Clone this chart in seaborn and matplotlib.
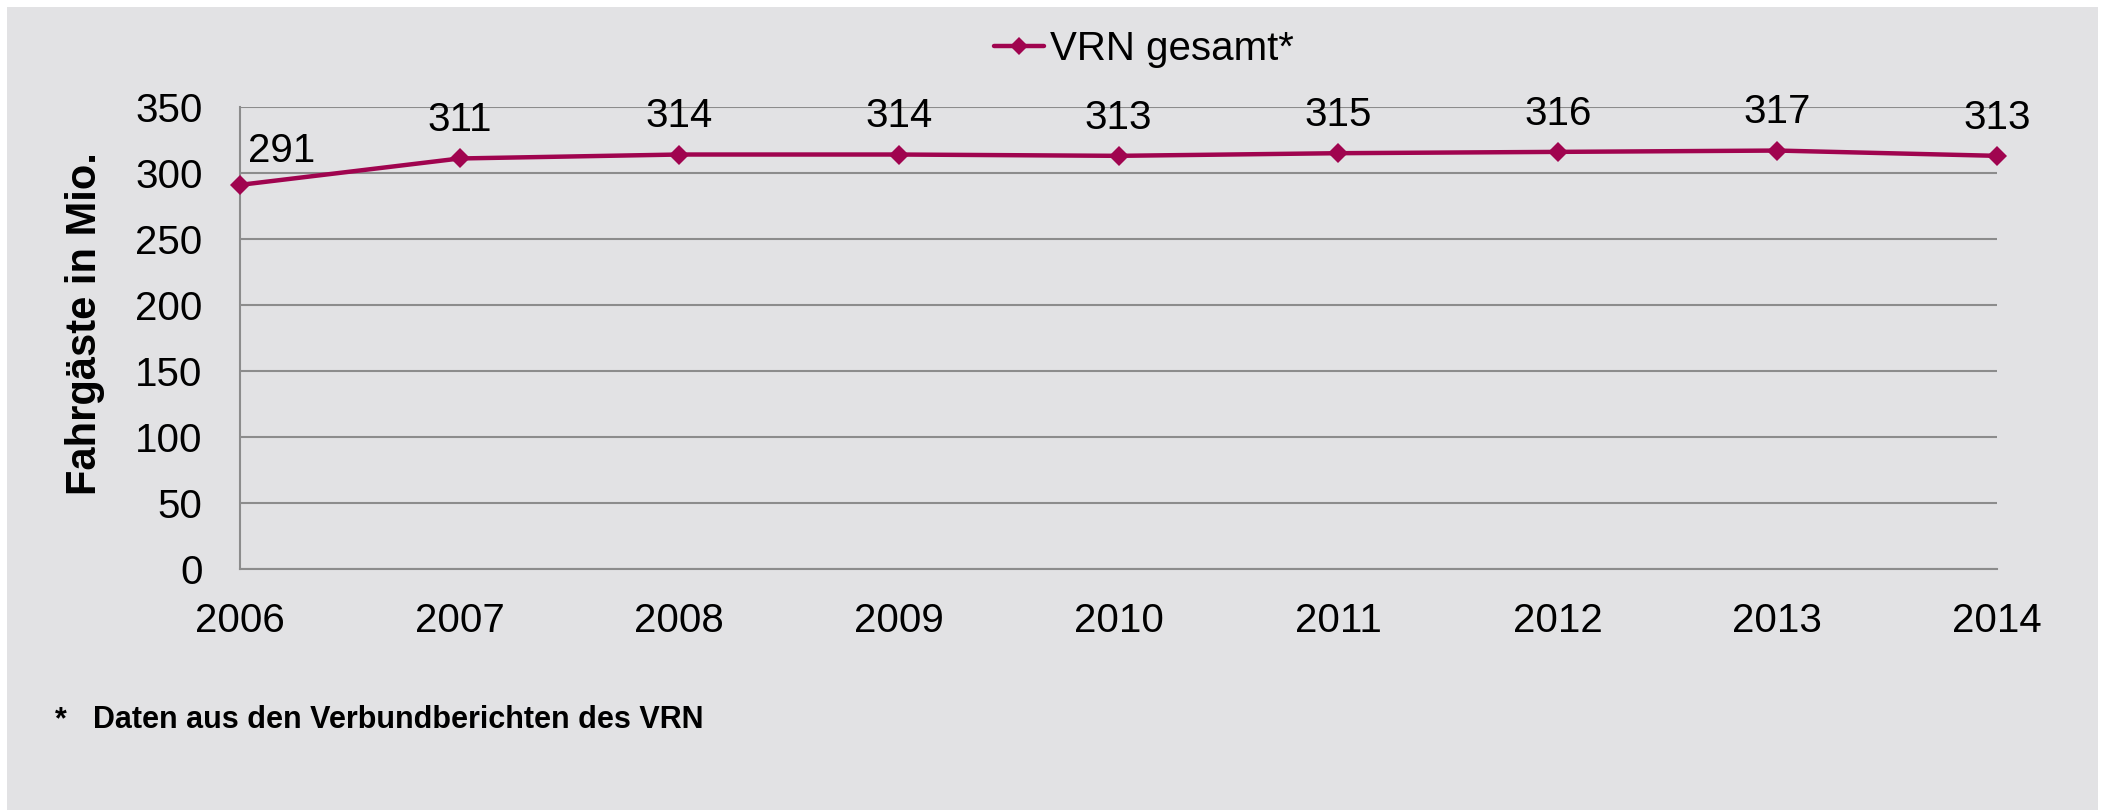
import matplotlib
matplotlib.use("Agg")
import matplotlib.pyplot as plt
import matplotlib.patches as mpatches
import seaborn as sns
import pandas as pd

years = [2006, 2007, 2008, 2009, 2010, 2011, 2012, 2013, 2014]
passengers = [291, 311, 314, 314, 313, 315, 316, 317, 313]
series_name = "VRN gesamt*"
y_ticks = [0, 50, 100, 150, 200, 250, 300, 350]
y_label = "Fahrgäste in Mio."
footnote_star = "*"
footnote_text = "Daten aus den Verbundberichten des VRN"

W, H = 2105, 810
BG = "#e2e2e4"
LINE = "#a0044f"
GRID = "#8c8c8c"

sns.set_style("white")
plt.rcParams["font.family"] = ["Liberation Sans", "DejaVu Sans"]
plt.rcParams["text.color"] = "black"
plt.rcParams["axes.labelcolor"] = "black"
plt.rcParams["xtick.color"] = "black"
plt.rcParams["ytick.color"] = "black"

fig = plt.figure(figsize=(W / 100, H / 100), dpi=100, facecolor="white")
fig.patches.append(mpatches.Rectangle((7 / W, 0), (2098 - 7) / W, (810 - 7) / H,
                                      transform=fig.transFigure, facecolor=BG,
                                      edgecolor="none", zorder=-10))

left, right, top, bottom = 240, 1997, 107, 569
ax = fig.add_axes([left / W, 1 - bottom / H, (right - left) / W, (bottom - top) / H])
ax.set_facecolor("none")

df = pd.DataFrame({"Jahr": years, "Fahrgäste": passengers})
sns.lineplot(data=df, x="Jahr", y="Fahrgäste", ax=ax, color=LINE, lw=3.2,
             marker="D", markersize=10, markeredgewidth=0, label=series_name,
             clip_on=False, zorder=5)

ax.set_xlim(years[0], years[-1])
ax.set_ylim(0, 350)
ax.set_xticks(years)
ax.set_xticklabels([str(y) for y in years])
ax.set_yticks(y_ticks)
ax.tick_params(axis="both", length=0, labelsize=29, colors="black")
ax.tick_params(axis="y", pad=27)
ax.tick_params(axis="x", pad=24)

ax.grid(axis="y", color=GRID, lw=1.5)
ax.grid(axis="x", visible=False)
for s in ["top", "right"]:
    ax.spines[s].set_visible(False)
for s in ["left", "bottom"]:
    ax.spines[s].set_visible(True)
    ax.spines[s].set_color(GRID)
    ax.spines[s].set_linewidth(1.5)

ax.set_xlabel("")
ax.set_ylabel(y_label, fontsize=30, fontweight="bold", va="center", color="black")
ax.yaxis.set_label_coords((85 - left) / (right - left), (bottom - 324) / (bottom - top))

for i, (x, v) in enumerate(zip(years, passengers)):
    if i == 0:
        ax.annotate(str(v), (x, v), xytext=(6, 16.5), textcoords="offset points",
                    ha="left", va="baseline", fontsize=29, color="black",
                    annotation_clip=False)
    else:
        ax.annotate(str(v), (x, v), xytext=(0, 19.5), textcoords="offset points",
                    ha="center", va="baseline", fontsize=29, color="black",
                    annotation_clip=False)

leg = ax.legend(loc="center", bbox_to_anchor=(1144 / W, 1 - 49 / H),
                bbox_transform=fig.transFigure, frameon=False, fontsize=29,
                handlelength=1.25, handletextpad=0.15, borderpad=0)
for t in leg.get_texts():
    t.set_color("black")
for h in leg.legend_handles:
    h.set_markersize(9)

fig.text(55 / W, 1 - 720 / H, footnote_star, fontsize=22, fontweight="bold",
         ha="left", va="center", color="black")
fig.text(93 / W, 1 - 720 / H, footnote_text, fontsize=22, fontweight="bold",
         ha="left", va="center", color="black")

fig.savefig("out.png", dpi=100, facecolor="white")
